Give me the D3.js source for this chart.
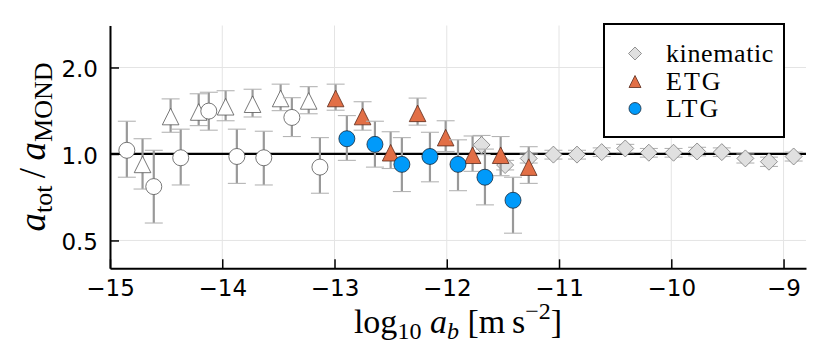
<!DOCTYPE html>
<html>
<head>
<meta charset="utf-8">
<script src="https://cdn.jsdelivr.net/npm/d3@7"></script>
<style>
body { margin: 0; background: #fff; }
</style>
</head>
<body>
<div class="container"></div>
<script>
const WIDTH = 830;
const HEIGHT = 346;

// tick values
var xTicks = [-15, -14, -13, -12, -11, -10, -9];
var yTicks = [0.5, 1.0, 2.0];

// kinematic sample
var kinX = [-11.69, -11.48, -11.27, -11.05, -10.84, -10.62, -10.41, -10.20, -9.98, -9.77, -9.55, -9.34, -9.13, -8.91];
var kinY = [1.075, 0.915, 0.965, 0.995, 0.995, 1.015, 1.045, 1.01, 1.01, 1.02, 1.015, 0.965, 0.94, 0.98];
var kinLo = [0.995, 0.88, 0.93, 0.96, 0.96, 0.98, 1.01, 0.975, 0.975, 0.985, 0.98, 0.93, 0.905, 0.945];
var kinHi = [1.16, 0.95, 1.0, 1.03, 1.03, 1.05, 1.08, 1.045, 1.045, 1.055, 1.05, 1.0, 0.975, 1.015];

// ETG, low-acceleration bins (open markers)
var etgOpenX = [-14.71, -14.46, -14.21, -13.97, -13.73, -13.48, -13.23];
var etgOpenY = [0.92, 1.35, 1.40, 1.46, 1.49, 1.56, 1.53];
var etgOpenLo = [0.755, 1.19, 1.255, 1.305, 1.345, 1.415, 1.38];
var etgOpenHi = [1.13, 1.555, 1.62, 1.66, 1.68, 1.75, 1.715];

// ETG
var etgX = [-12.99, -12.75, -12.50, -12.26, -12.01, -11.77, -11.52, -11.27];
var etgY = [1.56, 1.35, 1.01, 1.385, 1.14, 0.99, 0.99, 0.90];
var etgLo = [1.42, 1.21, 0.89, 1.26, 1.02, 0.87, 0.84, 0.79];
var etgHi = [1.75, 1.52, 1.195, 1.565, 1.305, 1.155, 1.15, 1.06];

// LTG, low-acceleration bins (open markers)
var ltgOpenX = [-14.85, -14.61, -14.37, -14.12, -13.87, -13.63, -13.38, -13.13];
var ltgOpenY = [1.03, 0.77, 0.97, 1.41, 0.98, 0.97, 1.34, 0.90];
var ltgOpenLo = [0.83, 0.575, 0.78, 1.21, 0.79, 0.78, 1.15, 0.73];
var ltgOpenHi = [1.30, 1.03, 1.22, 1.64, 1.22, 1.20, 1.57, 1.14];

// LTG
var ltgX = [-12.89, -12.64, -12.40, -12.15, -11.90, -11.66, -11.41];
var ltgY = [1.13, 1.08, 0.92, 0.98, 0.92, 0.83, 0.69];
var ltgLo = [0.95, 0.90, 0.74, 0.80, 0.745, 0.665, 0.53];
var ltgHi = [1.36, 1.30, 1.14, 1.19, 1.12, 1.04, 0.83];

var legendLabels = ['kinematic', 'ETG', 'LTG'];

const BLUE = '#009afa';
const ORANGE = '#e26f46';
const GREY = '#e0e0e0';

var translate = function(x, y) {
    return `translate(${x},${y})`;
};

var diamond = (r) => `M0,${-r}L${r},0L0,${r}L${-r},0Z`;
var triangle = (r) => `M0,${-r}L${r},${r}L${-r},${r}Z`;

var drawErrors = function(g, xs, lo, hi, xScale, yScale) {
    var idx = d3.range(xs.length);
    g.selectAll(null).data(idx).enter().append('line')
        .attr('x1', (i) => xScale(xs[i])).attr('x2', (i) => xScale(xs[i]))
        .attr('y1', (i) => yScale(lo[i])).attr('y2', (i) => yScale(hi[i]))
        .attr('stroke', '#999').attr('stroke-width', 2.2);
    [lo, hi].forEach(function(arr) {
        g.selectAll(null).data(idx).enter().append('line')
            .attr('x1', (i) => xScale(xs[i]) - 9).attr('x2', (i) => xScale(xs[i]) + 9)
            .attr('y1', (i) => yScale(arr[i])).attr('y2', (i) => yScale(arr[i]))
            .attr('stroke', '#b4b4b4').attr('stroke-width', 1.1);
    });
};

var drawMarkers = function(g, xs, ys, xScale, yScale, shape, fill, stroke) {
    var idx = d3.range(xs.length);
    var sel = g.selectAll(null).data(idx).enter();
    if (shape === 'circle') {
        sel.append('circle')
            .attr('cx', (i) => xScale(xs[i])).attr('cy', (i) => yScale(ys[i]))
            .attr('r', 8)
            .attr('fill', fill).attr('stroke', stroke).attr('stroke-width', 0.8);
    } else {
        var d = shape === 'diamond' ? diamond(8.5) : triangle(8.3);
        sel.append('path')
            .attr('d', d)
            .attr('transform', (i) => translate(xScale(xs[i]), yScale(ys[i])))
            .attr('fill', fill).attr('stroke', stroke).attr('stroke-width', 0.8);
    }
};

var fillLayout = function() {
    var svg = d3.select('.container').append('svg')
        .attr('width', WIDTH)
        .attr('height', HEIGHT);

    let xScale = d3.scaleLinear().domain([-15, -8.8]).range([110, 806]);
    let yScale = d3.scaleLog().domain([0.4, 2.8]).range([268.3, 25.5]);

    // grid
    var grid = svg.append('g');
    grid.selectAll(null).data(xTicks).enter().append('line')
        .attr('x1', (d) => xScale(d)).attr('x2', (d) => xScale(d))
        .attr('y1', yScale.range()[0]).attr('y2', yScale.range()[1])
        .attr('stroke', '#e4e4e4').attr('stroke-width', 1);
    grid.selectAll(null).data(yTicks).enter().append('line')
        .attr('x1', xScale.range()[0]).attr('x2', xScale.range()[1])
        .attr('y1', (d) => yScale(d)).attr('y2', (d) => yScale(d))
        .attr('stroke', '#e4e4e4').attr('stroke-width', 1);

    // reference line
    svg.append('line')
        .attr('x1', xScale.range()[0]).attr('x2', xScale.range()[1])
        .attr('y1', yScale(1)).attr('y2', yScale(1))
        .attr('stroke', '#000').attr('stroke-width', 2.3);

    var g = svg.append('g');
    drawErrors(g, kinX, kinLo, kinHi, xScale, yScale);
    drawMarkers(g, kinX, kinY, xScale, yScale, 'diamond', GREY, '#7a7a7a');
    drawErrors(g, etgOpenX, etgOpenLo, etgOpenHi, xScale, yScale);
    drawMarkers(g, etgOpenX, etgOpenY, xScale, yScale, 'triangle', '#fff', '#555');
    drawErrors(g, etgX, etgLo, etgHi, xScale, yScale);
    drawMarkers(g, etgX, etgY, xScale, yScale, 'triangle', ORANGE, '#5a2a1a');
    drawErrors(g, ltgOpenX, ltgOpenLo, ltgOpenHi, xScale, yScale);
    drawMarkers(g, ltgOpenX, ltgOpenY, xScale, yScale, 'circle', '#fff', '#555');
    drawErrors(g, ltgX, ltgLo, ltgHi, xScale, yScale);
    drawMarkers(g, ltgX, ltgY, xScale, yScale, 'circle', BLUE, '#1a2a3a');

    // axes
    let xAxis = d3.axisBottom(xScale).tickValues(xTicks).tickSize(-9).tickSizeOuter(0)
        .tickPadding(11).tickFormat(d3.format('d'));
    let yAxis = d3.axisLeft(yScale).tickValues(yTicks).tickSize(-9).tickSizeOuter(0)
        .tickPadding(12).tickFormat(d3.format('.1f'));

    var xg = svg.append('g').attr('transform', translate(0, yScale.range()[0])).call(xAxis);
    var yg = svg.append('g').attr('transform', translate(xScale.range()[0], 0)).call(yAxis);
    [xg, yg].forEach(function(a) {
        a.select('.domain').attr('stroke', '#000').attr('stroke-width', 2);
        a.selectAll('.tick line').attr('stroke', '#000').attr('stroke-width', 1.5);
        a.selectAll('.tick text').attr('fill', '#000')
            .style('font-family', 'DejaVu Sans').style('font-size', '23px');
    });
    yg.selectAll('.tick text').attr('dy', '0.4em');

    // axis labels
    var xl = svg.append('text')
        .attr('x', xScale(-11.9)).attr('y', 333)
        .attr('text-anchor', 'middle')
        .style('font-family', 'Liberation Serif').style('font-size', '34px');
    xl.append('tspan').text('log');
    xl.append('tspan').attr('dy', 6).style('font-size', '24px').text('10');
    xl.append('tspan').attr('dy', -6).text('\u00a0');
    xl.append('tspan').style('font-style', 'italic').text('a');
    xl.append('tspan').attr('dy', 6).style('font-size', '24px').style('font-style', 'italic').text('b');
    xl.append('tspan').attr('dy', -6).text('\u00a0[m\u2009s');
    xl.append('tspan').attr('dy', -14).style('font-size', '24px').text('\u22122');
    xl.append('tspan').attr('dy', 14).text(']');

    var yl = svg.append('text')
        .attr('transform', translate(45, 147) + ' rotate(-90)')
        .attr('text-anchor', 'middle')
        .style('font-family', 'Liberation Serif').style('font-size', '37px');
    yl.append('tspan').style('font-style', 'italic').text('a');
    yl.append('tspan').attr('dy', 7).style('font-size', '26px').text('tot');
    yl.append('tspan').attr('dy', -7).text('\u2009/\u2009');
    yl.append('tspan').style('font-style', 'italic').text('a');
    yl.append('tspan').attr('dy', 7).style('font-size', '26px').text('MOND');

    // legend
    var lg = svg.append('g').attr('transform', translate(604, 24));
    lg.append('rect').attr('width', 180).attr('height', 113)
        .attr('fill', '#fff').attr('stroke', '#000').attr('stroke-width', 2);
    var rows = [29.5, 57.5, 84.5];
    var legendMarks = [
        {d: diamond(6.5), fill: GREY, stroke: '#7a7a7a'},
        {d: triangle(6), fill: ORANGE, stroke: '#5a2a1a'},
        {d: null, fill: BLUE, stroke: '#1a2a3a'}
    ];
    legendLabels.forEach(function(label, i) {
        var m = legendMarks[i];
        if (m.d) {
            lg.append('path').attr('d', m.d).attr('transform', translate(31, rows[i]))
                .attr('fill', m.fill).attr('stroke', m.stroke).attr('stroke-width', 0.8);
        } else {
            lg.append('circle').attr('cx', 31).attr('cy', rows[i]).attr('r', 6)
                .attr('fill', m.fill).attr('stroke', m.stroke).attr('stroke-width', 0.8);
        }
        lg.append('text').attr('x', 62).attr('y', rows[i] + 8)
            .style('font-family', 'Liberation Serif').style('font-size', '26px')
            .style('letter-spacing', i === 0 ? '0.6px' : '2px')
            .text(label);
    });
};
window.onload = fillLayout;
</script>
</body>
</html>
